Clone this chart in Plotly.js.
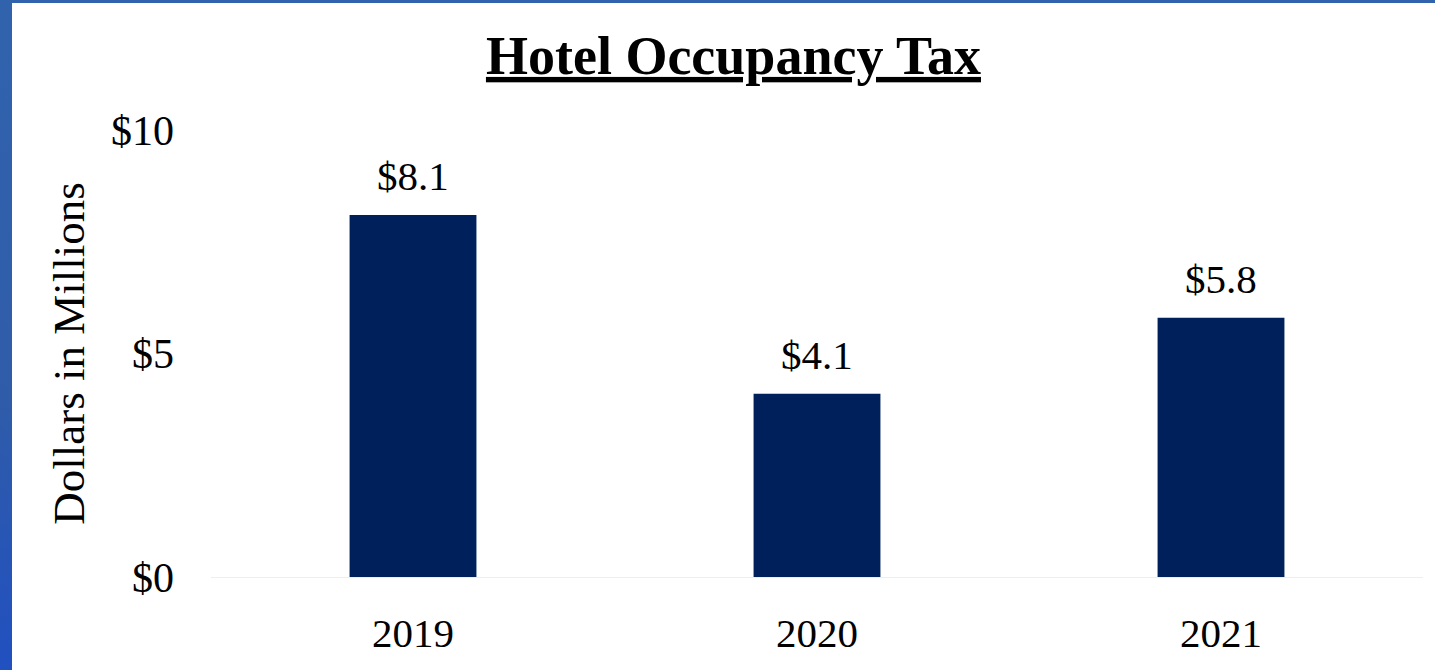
<!DOCTYPE html>
<html>
<head>
<meta charset="utf-8">
<script src="https://cdn.plot.ly/plotly-3.0.1.min.js"></script>
<style>
  html, body { margin: 0; padding: 0; width: 1435px; height: 670px; overflow: hidden;
    background: linear-gradient(180deg, #3163ad 0%, #2f5ca9 60%, #2150c0 100%); }
  #chart { position: absolute; left: 12px; top: 3px; width: 1423px; height: 667px; background: #fff; }
</style>
</head>
<body>
<div id="chart"></div>
<script>
const years = ['2019', '2020', '2021'];
const values = [8.1, 4.1, 5.8];
const labels = ['$8.1', '$4.1', '$5.8'];
const yTickVals = [0, 5, 10];
const yTickText = ['$0', '$5', '$10'];

const FONT = '"Liberation Serif", "Times New Roman", serif';

const trace = {
  type: 'bar',
  x: years,
  y: values,
  marker: { color: '#00205b' },
  hoverinfo: 'none'
};

// category axis: annotation x is the category index of each year
const annotations = years.map((yr, i) => ({
  x: i,
  y: values[i],
  xref: 'x',
  yref: 'y',
  text: labels[i],
  showarrow: false,
  yanchor: 'bottom',
  yshift: 14,
  font: { family: FONT, size: 41, color: '#000' }
}));

const layout = {
  width: 1423,
  height: 667,
  margin: { l: 199, r: 12, t: 127, b: 93 },
  paper_bgcolor: '#ffffff',
  plot_bgcolor: '#ffffff',
  bargap: 0.686,
  showlegend: false,
  annotations: annotations,
  title: {
    text: '<b><u>Hotel Occupancy Tax</u></b>',
    font: { family: FONT, size: 54, color: '#000' },
    x: 0.507,
    xref: 'container',
    xanchor: 'center',
    y: 0.922,
    yref: 'container',
    yanchor: 'middle'
  },
  xaxis: {
    type: 'category',
    categoryarray: years,
    range: [-0.5, years.length - 0.5],
    showgrid: false,
    zeroline: false,
    showline: true,
    linecolor: '#eeeeee',
    linewidth: 1,
    ticks: '',
    ticklabelstandoff: 20,
    tickfont: { family: FONT, size: 41, color: '#000' }
  },
  yaxis: {
    range: [0, 10],
    tickvals: yTickVals,
    ticktext: yTickText,
    showgrid: false,
    zeroline: false,
    showline: false,
    ticks: '',
    ticklabelstandoff: 36,
    tickfont: { family: FONT, size: 42, color: '#000' },
    title: {
      text: 'Dollars in Millions',
      font: { family: FONT, size: 45, color: '#000' },
      standoff: 12
    }
  }
};

Plotly.newPlot('chart', [trace], layout, { displayModeBar: false, staticPlot: true });
</script>
</body>
</html>
